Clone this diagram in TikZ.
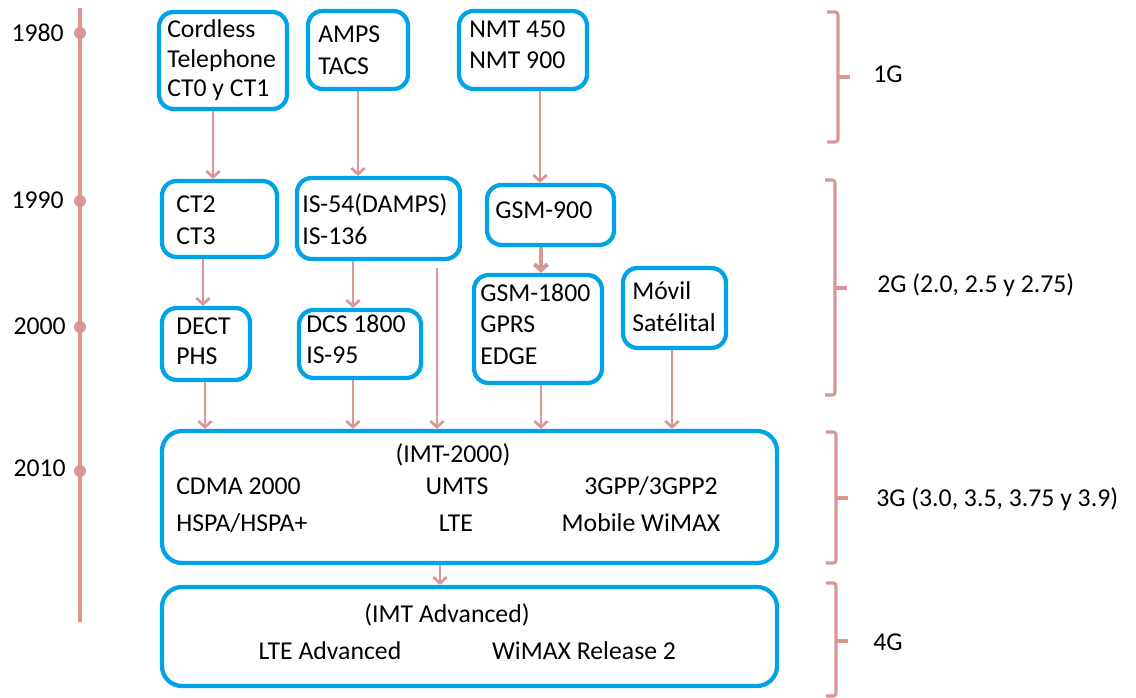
\documentclass[tikz,border=0pt]{standalone}
\usepackage{fontspec}
\setmainfont{Carlito}
\usetikzlibrary{arrows.meta}
\definecolor{boxblue}{RGB}{0,162,232}
\definecolor{tlpink}{RGB}{217,150,148}
\newcommand\gbox[6][]{\node[gbox,#1,minimum width={(#4-#2)*0.75pt},minimum height={(#5-#3)*0.75pt}] (#6) at ({(#2+#4)/2},{(#3+#5)/2}) {};}
\begin{document}
\begin{tikzpicture}[x=0.75pt,y=-0.75pt,
  gbox/.style={draw=boxblue,line width=3.2pt,rounded corners=11pt,inner sep=0pt},
  bigbox/.style={rounded corners=15pt},
  txt/.style={font=\fontsize{19.3}{22}\selectfont,inner sep=0pt,anchor=base west},
  ctxt/.style={txt,anchor=base},
  etxt/.style={txt,anchor=base east},
  arr/.style={draw=tlpink,line width=2pt,-{Straight Barb[length=4.5pt,width=10pt]}},
  tl/.style={draw=tlpink,line width=2.3pt},
  dot/.style={circle,fill=tlpink,minimum size=9pt,inner sep=0pt},
  br/.style={draw=tlpink,line width=2.3pt,rounded corners=2pt}]
\useasboundingbox (0,0) rectangle (1136,698);
% timeline
\coordinate (tltop) at (80,8);
\coordinate (tlbot) at (80,622);
\draw[tl] (tltop) -- (tlbot);
\node[dot] (d1980) at (80,33) {};
\node[dot] (d1990) at (80,201) {};
\node[dot] (d2000) at (80,327) {};
\node[dot] (d2010) at (80,471) {};
\node[etxt] (y1980) at (64,42) {1980};
\node[etxt] (y1990) at (64,209) {1990};
\node[etxt] (y2000) at (66,335) {2000};
\node[etxt] (y2010) at (66,477) {2010};
% boxes
\gbox{159}{12}{287}{109}{cord}
\gbox{308}{11}{408}{89}{amps}
\gbox{459}{11}{587}{89}{nmt}
\gbox{162}{181}{277}{257}{ct}
\gbox{297}{178}{460}{259}{is}
\gbox{487}{185}{614}{245}{gsmn}
\gbox{162}{308}{250}{380}{dect}
\gbox{299}{310}{421}{378}{dcs}
\gbox{474}{275}{602}{383}{gsme}
\gbox{623}{268}{726}{348}{movil}
\gbox[bigbox]{162}{431}{777}{563}{tg}
\gbox[bigbox]{162}{587}{777}{686}{fg}
% texts
\node[txt] (c1) at (167,38) {Cordless};
\node[txt] (c2) at (167,68) {Telephone};
\node[txt] (c3) at (167,97) {CT0 y CT1};
\node[txt] (a1) at (318,43) {AMPS};
\node[txt] (a2) at (318,75) {TACS};
\node[txt] (n1) at (469,38) {NMT 450};
\node[txt] (n2) at (469,69) {NMT 900};
\node[txt] (ct1) at (176,213) {CT2};
\node[txt] (ct2) at (176,245) {CT3};
\node[txt] (is1) at (302,213) {IS-54(DAMPS)};
\node[txt] (is2) at (302,245) {IS-136};
\node[txt] (g1) at (495,219) {GSM-900};
\node[txt] (de1) at (176,335) {DECT};
\node[txt] (de2) at (176,365) {PHS};
\node[txt] (dc1) at (306,333) {DCS 1800};
\node[txt] (dc2) at (306,364) {IS-95};
\node[txt] (ge1) at (480,302) {GSM-1800};
\node[txt] (ge2) at (480,333) {GPRS};
\node[txt] (ge3) at (480,365) {EDGE};
\node[txt] (m1) at (632,300) {Móvil};
\node[txt] (m2) at (632,332) {Satélital};
\node[ctxt] (imt) at (453,463) {(IMT-2000)};
\node[txt] (cdma) at (176,495) {CDMA 2000};
\node[ctxt] (umts) at (457,495) {UMTS};
\node[ctxt] (gpp) at (651,495) {3GPP/3GPP2};
\node[txt] (hspa) at (176,532) {HSPA/HSPA+};
\node[ctxt] (lte) at (456,532) {LTE};
\node[ctxt] (wimax) at (641,532) {Mobile WiMAX};
\node[ctxt] (imta) at (447,623) {(IMT Advanced)};
\node[ctxt] (ltea) at (330,659) {LTE Advanced};
\node[ctxt] (wr2) at (584,659) {WiMAX Release 2};
% arrows
\draw[arr] (213,0 |- cord.south) -- (213,0 |- ct.north);
\draw[arr] (358,0 |- amps.south) -- (358,0 |- is.north);
\draw[arr] (540,0 |- nmt.south) -- (540,0 |- gsmn.north);
\draw[arr,line width=3pt] (541,0 |- gsmn.south) -- (541,0 |- gsme.north);
\draw[arr] (203,0 |- ct.south) -- (203,0 |- dect.north);
\draw[arr] (353,0 |- is.south) -- (353,0 |- dcs.north);
\draw[arr,shorten <=5pt] (437,0 |- is.south) -- (437,0 |- tg.north);
\draw[arr] (205,0 |- dect.south) -- (205,0 |- tg.north);
\draw[arr] (353,0 |- dcs.south) -- (353,0 |- tg.north);
\draw[arr] (541,0 |- gsme.south) -- (541,0 |- tg.north);
\draw[arr] (672,0 |- movil.south) -- (672,0 |- tg.north);
\draw[arr] (440,0 |- tg.south) -- (440,0 |- fg.north);
% brackets
\draw[br] (827,12) -- (838,12) -- (838,142) -- (827,142);
\draw[br] (838,77) -- (850,77);
\node[txt] (g1l) at (873,83) {1G};
\draw[br] (825,180) -- (835,180) -- (835,395) -- (825,395);
\draw[br] (835,288) -- (847,288);
\node[txt] (g2l) at (877,293) {2G (2.0, 2.5 y 2.75)};
\draw[br] (826,432) -- (836,432) -- (836,563) -- (826,563);
\draw[br] (836,498) -- (848,498);
\node[txt] (g3l) at (876,507) {3G (3.0, 3.5, 3.75 y 3.9)};
\draw[br] (826,583) -- (836,583) -- (836,696) -- (826,696);
\draw[br] (836,641) -- (848,641);
\node[txt] (g4l) at (873,650) {4G};
\end{tikzpicture}
\end{document}
